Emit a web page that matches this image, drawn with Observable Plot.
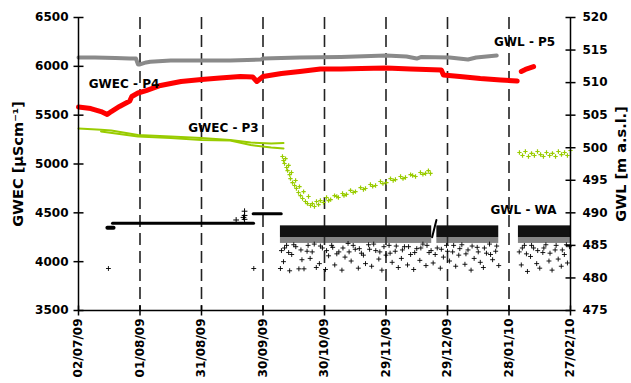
<!DOCTYPE html>
<html><head><meta charset="utf-8">
<script src="https://cdn.jsdelivr.net/npm/d3@7"></script>
<script src="https://cdn.jsdelivr.net/npm/@observablehq/plot@0.6"></script>
<style>
body{margin:0;background:#fff;}
svg{font-family:"DejaVu Sans";font-weight:bold;}
</style></head><body><div id="chart"></div>
<script>
// ---- data (x as days since 2009-07-02) ----
const startDate = "2009-07-02";
const tickDays = [0,30,60,90,120,150,180,210,240];
const dashDays = [30,60,90,120,150,180,210];
const leftTicks = [3500,4000,4500,5000,5500,6000,6500];
const rightTicks = [475,480,485,490,495,500,505,510,515,520];

// GWL - P5 (right axis, m a.s.l.)
const gwlP5Day = [0,8,18,25,28,29,30,33,35,45,60,74,89,90,108,128,150,160,165,167,181,190,194,204];
const gwlP5    = [513.86,513.85,513.78,513.7,513.7,512.8,512.8,513.1,513.2,513.4,513.4,513.4,513.55,513.7,513.86,513.93,514.16,514.0,513.7,513.93,513.86,513.55,513.86,514.16];

// GWEC - P4 (left axis)
const gwecP4Day = [0,6,11,14,16,20,25,26,29,33,40,50,60,69,79,85,87,90,99,108,118,128,138,150,162,177,178,186,196,206,214];
const gwecP4    = [5584,5568,5537,5507,5537,5589,5645,5691,5727,5752,5804,5845,5865,5880,5896,5891,5845,5896,5927,5947,5973,5973,5978,5983,5973,5962,5911,5896,5875,5860,5850];
const gwecP4bDay = [216,218,222];
const gwecP4b    = [5947,5968,5998];

// GWEC - P3 (left axis), two traces before the drop
const gwecP3aDay = [0,11,16,29,45,60,74,84,94,100];
const gwecP3a    = [5363,5350,5343,5297,5281,5266,5246,5220,5210,5215];
const gwecP3bDay = [11,29,45,60,74,84,94,100];
const gwecP3b    = [5333,5281,5266,5246,5240,5194,5169,5159];
// GWEC - P3 scattered readings [day, value]
const gwecP3pts = [
 [99.5,5077],[100,5036],[100.5,5005],[101,5056],[101.5,4964],[102,4933],[102.5,4985],[103,4892],[103.4,4851],[103.9,4913],
 [104.4,4810],[105.4,4780],[105.9,4831],[106.3,4749],[107.3,4708],[107.8,4769],[108.3,4677],[109.3,4647],[109.8,4718],[110.7,4616],
 [111.7,4595],[112.2,4667],[113.2,4575],[114.1,4595],[115.1,4565],[116.1,4616],[117.1,4585],[118,4626],[119.5,4606],[121,4657],
 [123,4636],[124.9,4677],[126.8,4657],[128.8,4698],[130.7,4688],[132.7,4729],[135.1,4718],[137.6,4759],[140,4749],[142.4,4790],
 [144.9,4780],[147.3,4821],[150.2,4810],[152.2,4851],[154.6,4841],[157.1,4872],[159.5,4862],[162,4892],[164.4,4872],[166.8,4913],
 [169.3,4903],[170.7,4933],[171.7,4903],
 [122,4626],[126,4667],[129.5,4677],[134,4708],[139,4739],[143.5,4770],[148.5,4800],[153.5,4831],[158.3,4851],[163,4882],[168,4893],
 [215.1,5118],[216.6,5087],[218,5128],[219.5,5077],[221,5108],[222.4,5087],[223.9,5128],[225.4,5097],[226.8,5077],[228.3,5118],
 [229.8,5087],[231.2,5108],[232.7,5077],[234.1,5128],[235.6,5097],[237.1,5118],[238.5,5087],[240,5138]
];

// GWL - WA (right axis)
const waSeg1Day = [14.1,17.1];   const waSeg1 = [487.7,487.7];
const waSeg2Day = [16.6,85.4];   const waSeg2 = [488.4,488.4];
const waSeg3Day = [85.2,98.9];   const waSeg3 = [489.85,489.85];
const waRiseDay = [172.5,174.6]; const waRise = [486.25,488.9];
const waSpikes = [[76.9,488.9],[80.5,489.3],[81,489.0],[81,489.6],[81,490.25]];
const waBandStart = [98.5,174.8,214.6];
const waBandEnd   = [172.3,205,240];
const waBandTop = 488.0, waBandMid = 486.2, waBandLow = 485.3;
const waPts = [
 [14.6,481.45],[85.5,481.45],[98.5,481.45],
 [99,484.2],[100,482.5],[101.5,485.0],[103,481.1],[104,483.6],[106,484.8],[107.5,481.4],[109,482.8],[110,481.4],[111.5,484.1],
 [113,483.0],[115,485.2],[116,481.6],[117.5,482.2],[119,484.6],[120.5,481.3],[122,483.4],[123.5,485.0],[125,482.0],[127,484.0],
 [128.5,481.2],[130,483.2],[131.5,485.3],[133,482.6],[135,484.4],[136.5,481.5],[138,483.8],[140,482.2],[141.5,485.1],[143,481.8],
 [145,484.2],[146.5,482.9],[148,481.2],[150,483.5],[151.5,485.0],[153,482.4],[154.5,484.1],[156,481.6],[157.5,483.0],[159,484.8],
 [160.5,482.0],[162,483.6],[163.5,481.3],[165,484.5],[166.5,482.7],[168,485.2],[169.5,481.9],[171,483.9],[173,482.3],[175,484.6],
 [176.5,481.5],[178,483.2],[179.5,485.0],[181,482.6],[182.5,484.0],[184,481.8],[185.5,483.5],[187,485.1],[188.5,482.1],[190,484.3],
 [191.5,481.2],[193,483.0],[194.5,484.7],[196,482.4],[197.5,481.6],[199,483.8],[200.5,485.2],[202,482.8],[203.5,484.1],[205,481.9],
 [215,484.0],[216,482.0],[217.5,485.0],[219,481.0],[220.5,483.3],[222,484.6],[223.5,482.2],[225,481.5],[226.5,483.9],[228,485.1],
 [229.5,482.6],[231,481.2],[232.5,484.3],[234,482.9],[235.5,481.8],[237,483.6],[238.5,482.3],[239.5,484.8],
 [100.5,484.6],[102.5,483.9],[105,485.1],[108.5,484.3],[112,485.0],[114,484.0],[118,484.9],[121,484.2],[124,484.7],[126,483.7],
 [129,484.6],[132,484.0],[134,485.0],[137,484.5],[139,483.5],[142,484.4],[144,485.2],[147,484.0],[149,484.8],[152,483.8],
 [155,484.9],[158,484.3],[161,484.8],[164,483.9],[167,484.6],[170,485.0],[172,484.2],[174,483.6],[177,484.4],[180,484.1],
 [183,485.0],[186,484.5],[189,483.7],[192,484.9],[195,484.0],[198,484.6],[201,483.6],[204,484.9],
 [216.5,484.6],[218.5,483.7],[221,485.0],[224,484.2],[227,484.6],[230,483.8],[233,485.0],[236,484.3],[238,485.1]
];

// series labels [text, day, left-axis value]
const labelText = ["GWEC - P4","GWEC - P3","GWL - P5","GWL - WA"];
const labelDay  = [22.2,70.7,217.6,217.1];
const labelVal  = [5819,5363,6249,4524];

// ---- helpers ----
const day0 = new Date(startDate + "T00:00:00Z");
const toDate = d => new Date(day0.getTime() + d * 864e5);
const toLeft = w => 3500 + (w - 475) * 3000 / 45;
const fromLeft = v => 475 + (v - 3500) * 45 / 3000;
const zip = (ds, vs, f = v => v) => ds.map((d, i) => ({x: toDate(d), y: f(vs[i])}));

const x0 = toDate(0), x1 = toDate(240);
const tickDates = tickDays.map(toDate);
const green = "#99cc00";
const hTick = {draw(ctx) { ctx.moveTo(-5, 0); ctx.lineTo(5, 0); }};
const vTick = {draw(ctx) { ctx.moveTo(0, -5); ctx.lineTo(0, 5); }};

const bands = waBandStart.map((s, i) => ({x1: toDate(s), x2: toDate(waBandEnd[i])}));

const chart = Plot.plot({
  width: 631, height: 383,
  marginLeft: 78, marginRight: 61, marginTop: 17, marginBottom: 73,
  style: {fontFamily: "DejaVu Sans", fontWeight: "bold", background: "white", overflow: "visible", color: "black"},
  x: {type: "utc", domain: [x0, x1]},
  y: {domain: [3500, 6500]},
  marks: [
    Plot.ruleX(dashDays.map(toDate), {stroke: "#222", strokeWidth: 1.6, strokeDasharray: "12,6"}),
    // GWL-WA
    Plot.rect(bands, {x1: "x1", x2: "x2", y1: () => toLeft(waBandMid), y2: () => toLeft(waBandTop), fill: "#111"}),
    Plot.rect(bands, {x1: "x1", x2: "x2", y1: () => toLeft(waBandLow), y2: () => toLeft(waBandMid), fill: "#333", fillOpacity: 0.6}),
    Plot.dot(waPts, {x: d => toDate(d[0]), y: d => toLeft(d[1]), symbol: "plus", r: 1.7, stroke: "black", strokeWidth: 0.9}),
    Plot.dot(waSpikes, {x: d => toDate(d[0]), y: d => toLeft(d[1]), symbol: "plus", r: 2, stroke: "black", strokeWidth: 1}),
    Plot.line(zip(waSeg1Day, waSeg1, toLeft), {x: "x", y: "y", stroke: "black", strokeWidth: 4}),
    Plot.line(zip(waSeg2Day, waSeg2, toLeft), {x: "x", y: "y", stroke: "black", strokeWidth: 3}),
    Plot.line(zip(waSeg3Day, waSeg3, toLeft), {x: "x", y: "y", stroke: "black", strokeWidth: 3}),
    Plot.line(zip(waRiseDay, waRise, toLeft), {x: "x", y: "y", stroke: "black", strokeWidth: 2}),
    // GWL-P5
    Plot.line(zip(gwlP5Day, gwlP5, toLeft), {x: "x", y: "y", stroke: "#8a8a8a", strokeWidth: 4}),
    // GWEC-P4
    Plot.line(zip(gwecP4Day, gwecP4), {x: "x", y: "y", stroke: "#ff0000", strokeWidth: 5}),
    Plot.line(zip(gwecP4bDay, gwecP4b), {x: "x", y: "y", stroke: "#ff0000", strokeWidth: 5}),
    // GWEC-P3
    Plot.line(zip(gwecP3aDay, gwecP3a), {x: "x", y: "y", stroke: green, strokeWidth: 2}),
    Plot.line(zip(gwecP3bDay, gwecP3b), {x: "x", y: "y", stroke: green, strokeWidth: 2}),
    Plot.dot(gwecP3pts, {x: d => toDate(d[0]), y: d => d[1], symbol: "plus", r: 1.5, stroke: green, strokeWidth: 1.2}),
    // frame lines
    Plot.ruleX([x0, x1], {stroke: "black", strokeWidth: 1.5}),
    Plot.ruleY([3500], {stroke: "black", strokeWidth: 1.5}),
    // crossing ticks
    Plot.dot(leftTicks, {x: () => x0, y: d => d, symbol: hTick, stroke: "black", strokeWidth: 1.5, r: 5}),
    Plot.dot(rightTicks, {x: () => x1, y: d => toLeft(d), symbol: hTick, stroke: "black", strokeWidth: 1.5, r: 5}),
    Plot.dot(tickDates, {x: d => d, y: () => 3500, symbol: vTick, stroke: "black", strokeWidth: 1.5, r: 5}),
    // axes
    Plot.axisY({ticks: leftTicks, tickFormat: d => String(d), anchor: "left", tickSize: 0, tickPadding: 10, fontSize: 12, label: null}),
    Plot.axisY({ticks: rightTicks.map(toLeft), tickFormat: v => String(Math.round(fromLeft(v))), anchor: "right", tickSize: 0, tickPadding: 12, fontSize: 12, label: null}),
    Plot.axisX({ticks: tickDates, tickFormat: d3.utcFormat("%d/%m/%y"), tickRotate: -90, tickSize: 0, tickPadding: 8, fontSize: 12, label: null}),
    // titles
    Plot.text(["GWEC [µScm⁻¹]"], {frameAnchor: "left", dx: -60.5, rotate: -90, textAnchor: "middle", lineAnchor: "middle", fontSize: 14.5, fill: "black"}),
    Plot.text(["GWL [m a.s.l.]"], {frameAnchor: "right", dx: 51, rotate: -90, textAnchor: "middle", lineAnchor: "middle", fontSize: 14.5, fill: "black"}),
    // series labels
    Plot.text(labelText, {x: (d, i) => toDate(labelDay[i]), y: (d, i) => labelVal[i], text: d => d, fontSize: 12, fill: "black", textAnchor: "middle", lineAnchor: "middle"})
  ]
});
document.getElementById("chart").appendChild(chart);
</script>
</body></html>
